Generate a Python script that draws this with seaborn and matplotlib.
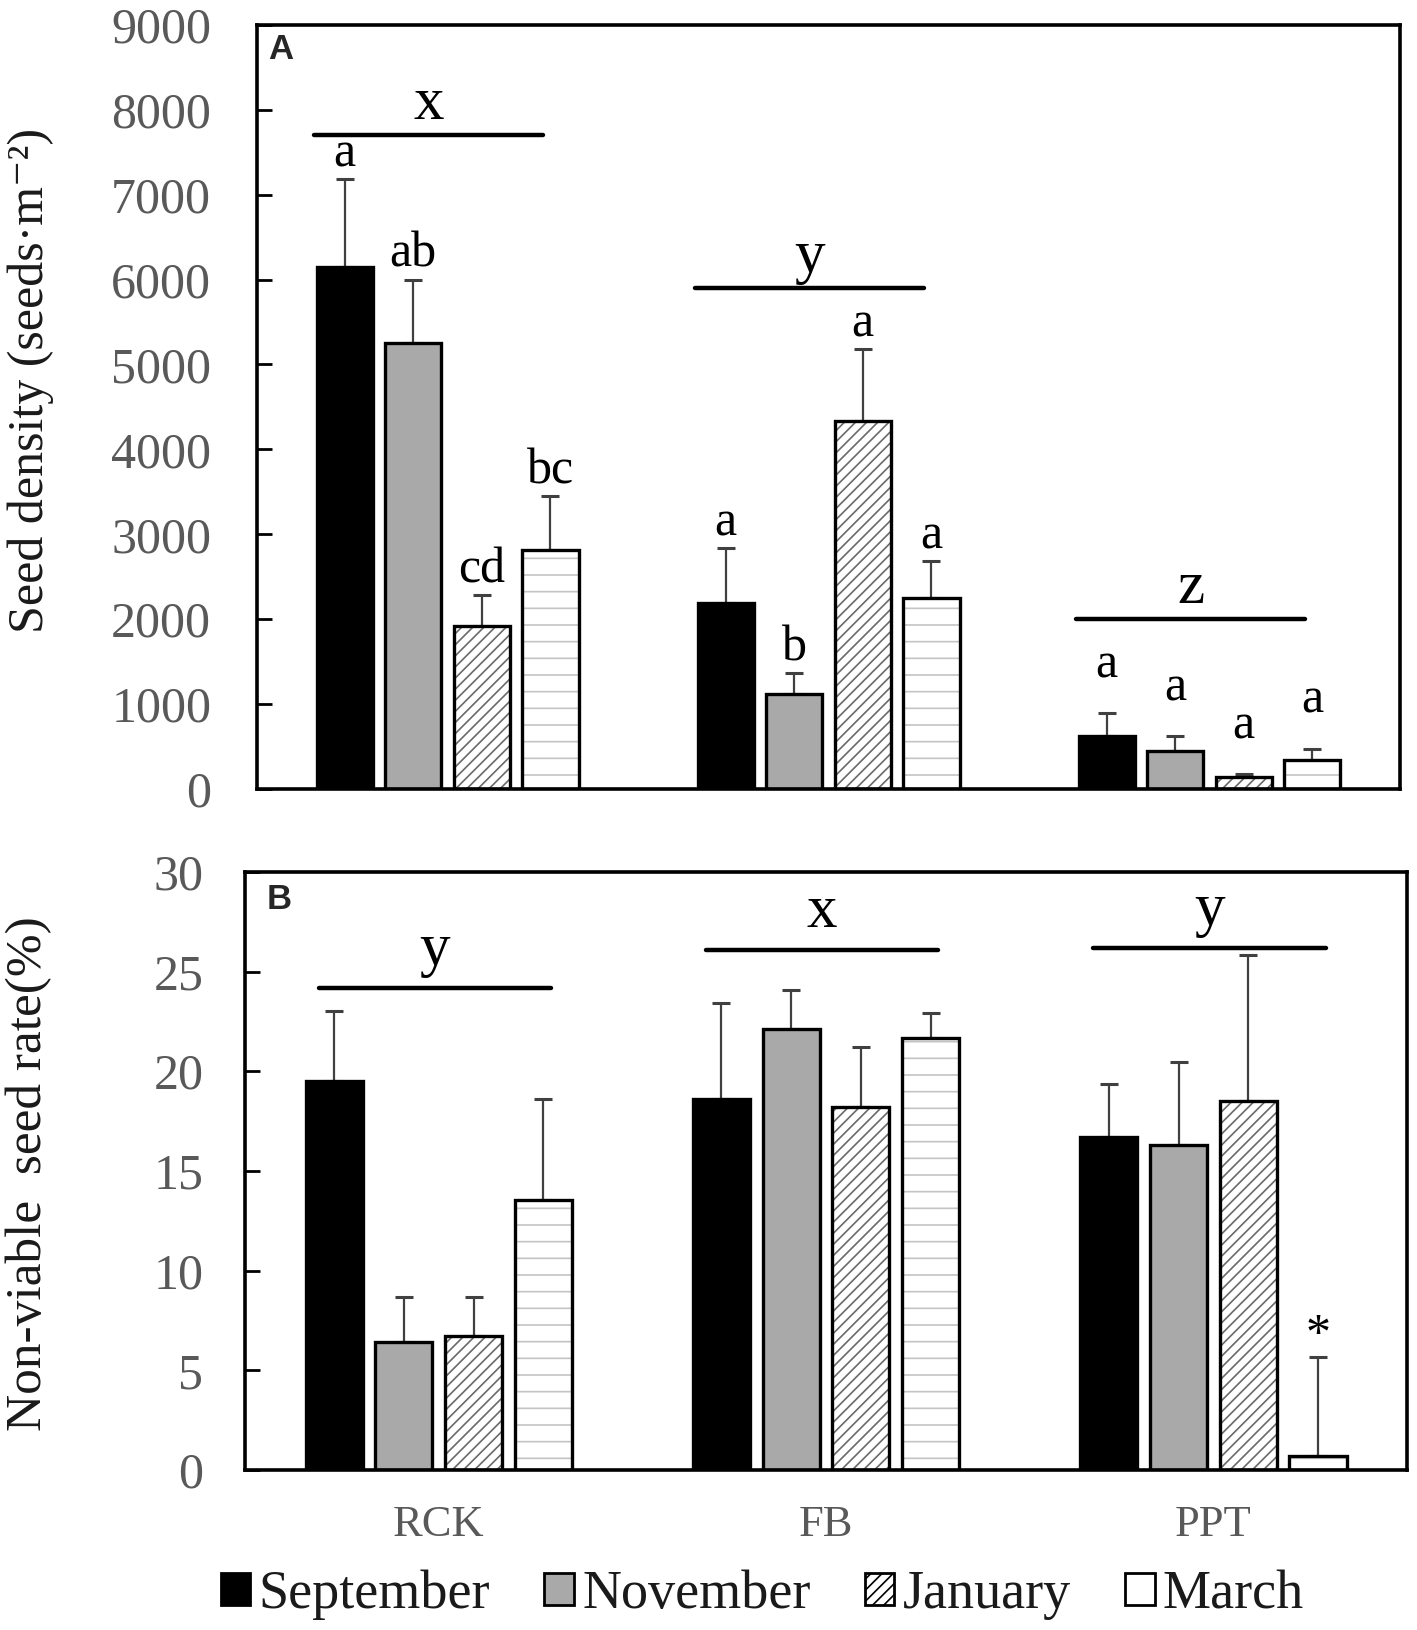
import numpy as np
import pandas as pd
import matplotlib
matplotlib.use("Agg")
import matplotlib.pyplot as plt
from matplotlib.patches import Rectangle, Patch
import seaborn as sns

# ---------------- data ----------------
sites = ["RCK", "FB", "PPT"]
months = ["September", "November", "January", "March"]

# Panel A: seed density (seeds m-2), mean and SE per site
density_sep = [6150, 2195, 620]
density_nov = [5255, 1120, 450]
density_jan = [1915, 4340, 135]
density_mar = [2815, 2245, 340]
density_sep_se = [1035, 645, 270]
density_nov_se = [745, 245, 170]
density_jan_se = [365, 840, 40]
density_mar_se = [635, 440, 135]
density_letters_sep = ["a", "a", "a"]
density_letters_nov = ["ab", "b", "a"]
density_letters_jan = ["cd", "a", "a"]
density_letters_mar = ["bc", "a", "a"]
density_group_letters = ["x", "y", "z"]
density_group_level = [7700, 5900, 2000]

# Panel B: non-viable seed rate (%)
nonviable_sep = [19.5, 18.6, 16.7]
nonviable_nov = [6.4, 22.1, 16.3]
nonviable_jan = [6.7, 18.2, 18.5]
nonviable_mar = [13.55, 21.65, 0.7]
nonviable_sep_se = [3.5, 4.8, 2.65]
nonviable_nov_se = [2.3, 1.95, 4.15]
nonviable_jan_se = [1.95, 3.0, 7.35]
nonviable_mar_se = [5.05, 1.25, 4.95]
nonviable_marks_sep = ["", "", ""]
nonviable_marks_nov = ["", "", ""]
nonviable_marks_jan = ["", "", ""]
nonviable_marks_mar = ["", "", "*"]
nonviable_group_letters = ["y", "x", "y"]
nonviable_group_level = [24.2, 26.1, 26.2]


def long_frame(vals, ses, labs):
    rows = []
    for m, v, e, l in zip(months, vals, ses, labs):
        for s, vv, ee, ll in zip(sites, v, e, l):
            rows.append({"site": s, "month": m, "value": vv, "se": ee, "lab": ll})
    return pd.DataFrame(rows)


df_a = long_frame([density_sep, density_nov, density_jan, density_mar],
                  [density_sep_se, density_nov_se, density_jan_se, density_mar_se],
                  [density_letters_sep, density_letters_nov, density_letters_jan, density_letters_mar])
df_b = long_frame([nonviable_sep, nonviable_nov, nonviable_jan, nonviable_mar],
                  [nonviable_sep_se, nonviable_nov_se, nonviable_jan_se, nonviable_mar_se],
                  [nonviable_marks_sep, nonviable_marks_nov, nonviable_marks_jan, nonviable_marks_mar])

# ---------------- style ----------------
sns.set_style("ticks")
plt.rcParams["font.family"] = ["Liberation Serif", "DejaVu Serif"]
plt.rcParams["mathtext.fontset"] = "stix"
plt.rcParams["hatch.linewidth"] = 1.2

fills = {"September": "#000000", "November": "#a9a9a9", "January": "#ffffff", "March": "#ffffff"}
hatches = {"September": "", "November": "", "January": "///", "March": "-"}
legend_hatches = {"September": "", "November": "", "January": "///", "March": ""}
hatch_colors = {"January": "#6a6a6a", "March": "#c4c4c4"}
TICK_GRAY = "#595959"
ERR_GRAY = "#404040"
BAR_W = 0.72
SLOT = BAR_W / 4

fig = plt.figure(figsize=(14.17, 16.30), dpi=100)
fig.patch.set_facecolor("white")
axA = fig.add_axes([0.1814, 0.5160, 0.8066, 0.4687])
axB = fig.add_axes([0.1729, 0.0982, 0.8201, 0.3669])


def draw_panel(ax, df, ylim, yticks, letter_offsets, letter_size, letter_va):
    sns.barplot(data=df, x="site", y="value", hue="month", order=sites, hue_order=months,
                palette=fills, saturation=1, width=BAR_W, gap=0.18, errorbar=None,
                legend=False, ax=ax, edgecolor="black", linewidth=2.4)
    bars = list(ax.patches)
    for bar in bars:
        cx = bar.get_x() + bar.get_width() / 2
        si = int(round(cx))
        hi = int(round((cx - si + 1.5 * SLOT) / SLOT))
        month = months[hi]
        row = df[(df.site == sites[si]) & (df.month == month)].iloc[0]
        top = bar.get_height()
        if hatches[month]:
            bar.set_hatch(hatches[month])
            bar.set_edgecolor(hatch_colors[month])
            bar.set_linewidth(0)
            ax.add_patch(Rectangle(bar.get_xy(), bar.get_width(), bar.get_height(),
                                   fill=False, edgecolor="black", linewidth=2.4, zorder=1.5))
        ax.errorbar([cx], [top], yerr=[[0], [row.se]], fmt="none", ecolor=ERR_GRAY,
                    elinewidth=1.6, capsize=6.5, capthick=2.2, zorder=0.8)
        if row.lab:
            ax.text(cx, top + row.se + letter_offsets[si], row.lab, ha="center",
                    va=letter_va, fontsize=letter_size, color="black", zorder=5)
    ax.set_xlim(-0.5, 2.5)
    ax.set_ylim(*ylim)
    ax.set_yticks(yticks)
    ax.set_xlabel("")
    ax.set_ylabel("")
    for sp in ax.spines.values():
        sp.set_visible(True)
        sp.set_linewidth(2.6)
        sp.set_color("black")
    ax.tick_params(axis="x", length=0)
    ax.tick_params(axis="y", direction="in", length=11, width=2, labelsize=36,
                   labelcolor=TICK_GRAY, color="black")


def group_bars(ax, letters, levels, left, right, offset, size):
    for i, (lab, lev) in enumerate(zip(letters, levels)):
        x0, x1 = i - left, i + right
        ax.plot([x0, x1], [lev, lev], color="black", lw=3.2, solid_capstyle="round", zorder=5)
        ax.text((x0 + x1) / 2, lev + offset, lab, ha="center", va="baseline",
                fontsize=size, color="black", zorder=5)


# Panel A
draw_panel(axA, df_a, (0, 9000), np.arange(0, 9001, 1000), [150, 150, 420], 36, "baseline")
group_bars(axA, density_group_letters, density_group_level, 0.35, 0.25, 190, 44)
axA.tick_params(axis="y", pad=33)
axA.tick_params(axis="x", labelbottom=False)
axA.set_ylabel("Seed density (seeds·m⁻²)", fontsize=36, color="#1a1a1a")
axA.yaxis.set_label_coords(54 / 1417, 1 - 380 / 1630, transform=fig.transFigure)
axA.text(0.010, 0.990, "A", transform=axA.transAxes, ha="left", va="top",
         fontsize=25, fontweight="bold", family=["Liberation Sans", "DejaVu Sans"])

# Panel B
draw_panel(axB, df_b, (0, 30), np.arange(0, 31, 5), [0.45, 0.45, 0.45], 36, "baseline")
group_bars(axB, nonviable_group_letters, nonviable_group_level, 0.31, 0.29, 1.15, 44)
axB.tick_params(axis="y", pad=30)
axB.tick_params(axis="x", labelsize=32, labelcolor=TICK_GRAY, pad=25)
axB.set_ylabel("Non-viable  seed rate(%)", fontsize=37, color="#1a1a1a")
axB.yaxis.set_label_coords(52 / 1417, 1 - 1174 / 1630, transform=fig.transFigure)
axB.text(0.019, 0.982, "B", transform=axB.transAxes, ha="left", va="top",
         fontsize=25, fontweight="bold", family=["Liberation Sans", "DejaVu Sans"])

# Legend
handles = [Patch(facecolor=fills[m], edgecolor="black", hatch=legend_hatches[m], linewidth=2)
           for m in months]
fig.legend(handles, months, loc="center", bbox_to_anchor=(0.538, 0.0215), ncol=4,
           frameon=False, fontsize=39, handlelength=0.55, handleheight=0.55,
           handletextpad=0.15, columnspacing=1.0, labelcolor="#1a1a1a")

fig.savefig("out.png", dpi=100, facecolor="white")
